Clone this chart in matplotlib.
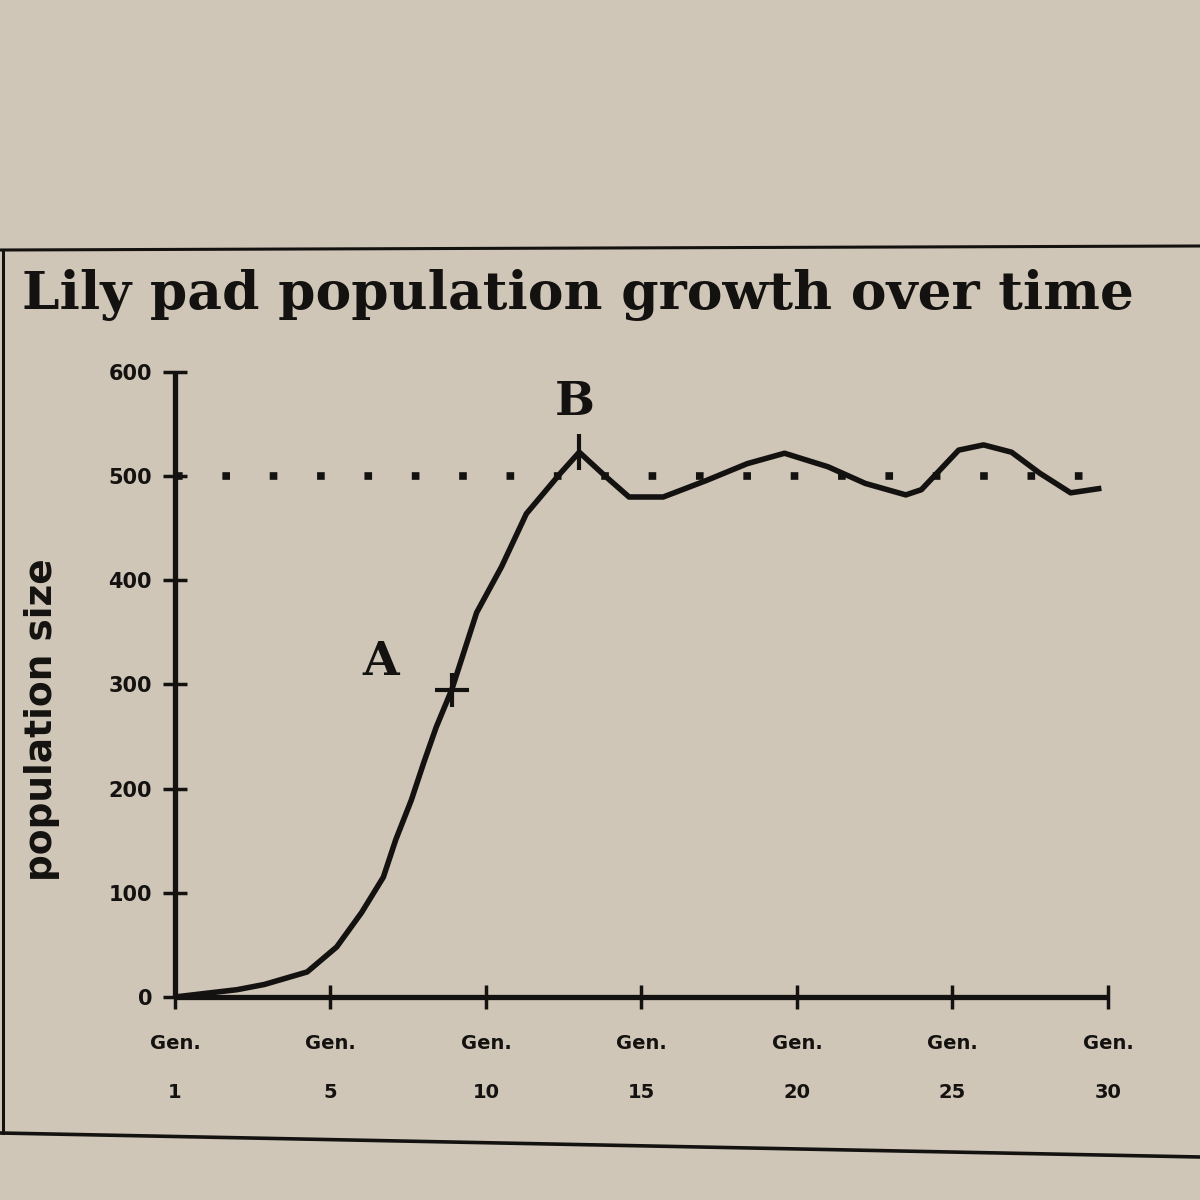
import numpy as np
import matplotlib
matplotlib.use('Agg')
import matplotlib.pyplot as plt
from matplotlib.lines import Line2D

# 读图估计的数据
generations = [1, 2.6, 3.3, 4.4, 5.2, 6.0, 6.7, 7.1, 7.6, 8.0, 8.4, 8.9, 9.7, 10.5, 11.3,
               12.4, 13.0, 13.8, 14.6, 15.7, 17.1, 18.4, 19.6, 21.0, 22.2, 23.5, 24.0,
               25.2, 26.0, 26.9, 27.8, 28.8, 29.7]
population = [0, 7, 12, 24, 48, 81, 115, 151, 189, 225, 259, 295, 369, 413, 464,
              503, 523, 501, 480, 480, 496, 512, 522, 509, 493, 482, 487,
              525, 530, 523, 503, 484, 488]
carrying_capacity = 500
point_a = (8.9, 295)
point_b = (13.0, 523)

tick_gens = [1, 5, 10, 15, 20, 25, 30]
tick_labels = ['Gen.\n' + str(g) for g in tick_gens]
y_ticks = [0, 100, 200, 300, 400, 500, 600]

paper = '#d0c6b7'
ink = '#141210'

# x轴刻度等距排列
idx = np.arange(len(tick_gens))
def fwd(g):
    return np.interp(g, tick_gens, idx, left=-1e9, right=1e9)
def inv(p):
    return np.interp(p, idx, tick_gens)

fig = plt.figure(figsize=(12, 12), dpi=100, facecolor=paper)
ax = fig.add_axes([0.1458, 0.1692, 0.7775, 0.5208])
ax.set_facecolor('none')
ax.set_xscale('function', functions=(fwd, inv))

ax.plot(generations, population, color=ink, lw=4.0, zorder=3, solid_joinstyle='round')
ax.axhline(carrying_capacity, color=ink, lw=5.5, linestyle=(0, (1, 5.2)), zorder=2)

ax.plot(*point_a, marker='+', ms=24, mew=3, color=ink, zorder=4)
ax.plot(*point_b, marker='|', ms=26, mew=3, color=ink, zorder=4)
ax.text(6.6, 322, 'A', fontsize=34, family='DejaVu Serif', fontweight='bold',
        color=ink, ha='center', va='center')
ax.text(12.85, 571, 'B', fontsize=34, family='DejaVu Serif', fontweight='bold',
        color=ink, ha='center', va='center')

ax.set_xlim(1, 30)
ax.set_ylim(0, 600)
ax.set_xticks(tick_gens)
ax.set_xticklabels(tick_labels, fontsize=14, fontweight='bold', color=ink, linespacing=3.0)
ax.set_yticks(y_ticks)
ax.set_yticklabels([str(v) for v in y_ticks], fontsize=15, fontweight='bold', color=ink)
ax.xaxis.set_minor_locator(plt.NullLocator())
ax.tick_params(axis='both', direction='inout', length=17, width=2.5, color=ink)
ax.tick_params(axis='x', pad=18)
ax.tick_params(axis='y', pad=8)

for side in ['top', 'right']:
    ax.spines[side].set_visible(False)
for side in ['left', 'bottom']:
    ax.spines[side].set_linewidth(3.8)
    ax.spines[side].set_color(ink)
    ax.spines[side].set_capstyle('butt')

ax.set_ylabel('population size', fontsize=27, fontweight='bold', color=ink)
ax.yaxis.set_label_coords(-0.123, 0.443)

fig.text(0.018, 0.754, 'Lily pad population growth over time', fontsize=38.5,
         family='DejaVu Serif', fontweight='heavy', color=ink, va='center', ha='left')

# 书页上的框线
fig.add_artist(Line2D([0, 1], [1 - 250 / 1200, 1 - 246 / 1200], color=ink, lw=2.2))
fig.add_artist(Line2D([0, 1], [1 - 1133 / 1200, 1 - 1157 / 1200], color=ink, lw=2.6))
fig.add_artist(Line2D([0.0025, 0.0025], [1 - 250 / 1200, 1 - 1133 / 1200], color=ink, lw=2.2))

fig.savefig('out.png', dpi=100, facecolor=paper)
